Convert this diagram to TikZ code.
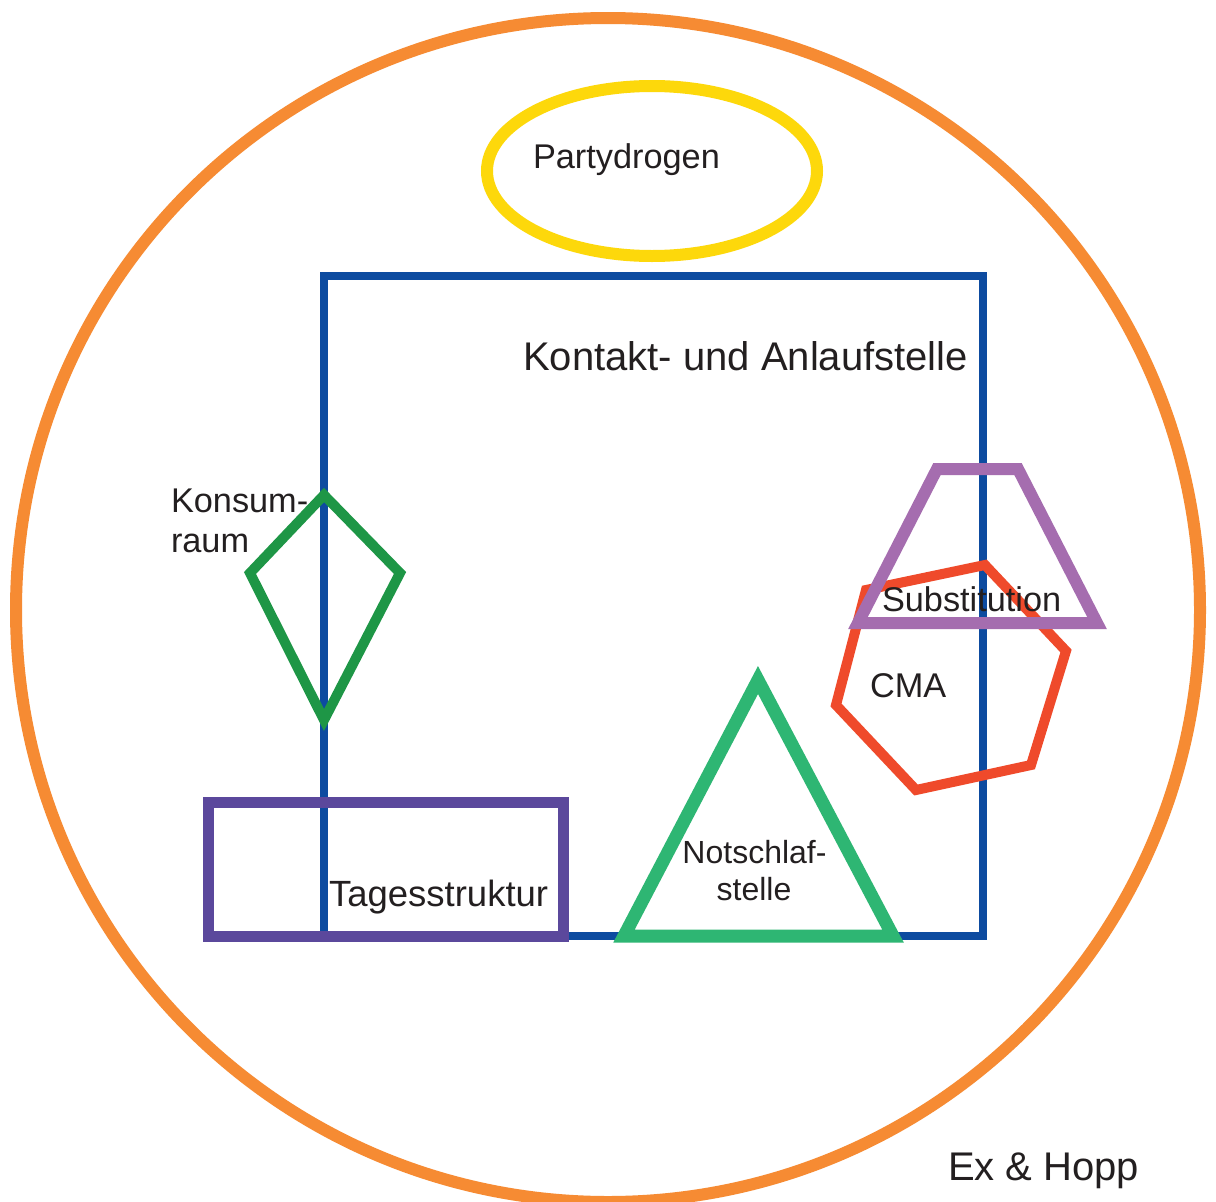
\documentclass[tikz,border=0pt]{standalone}
\usepackage{fontspec}
\setmainfont{Liberation Sans}
\definecolor{orangeC}{HTML}{F68B33}
\definecolor{yellowC}{HTML}{FDD80B}
\definecolor{blueC}{HTML}{0D4BA0}
\definecolor{kiteC}{HTML}{1E9646}
\definecolor{tagC}{HTML}{5B489C}
\definecolor{triC}{HTML}{2EB673}
\definecolor{trapC}{HTML}{A56DAF}
\definecolor{redC}{HTML}{EF4A2B}
\definecolor{textC}{HTML}{231F20}
\tikzset{
  shapeline/.style={line join=miter, miter limit=10},
  lbl/.style={inner sep=0pt, outer sep=0pt, text=textC},
  fbig/.style={font=\fontsize{40}{48}\selectfont},
  fmid/.style={font=\fontsize{34.3}{40}\selectfont},
  ftag/.style={font=\fontsize{36.5}{44}\selectfont},
  fsmall/.style={font=\fontsize{32}{37}\selectfont},
}
\begin{document}
\begin{tikzpicture}[x=1pt,y=-1pt]
\useasboundingbox[fill=white] (0,0) rectangle (1216,1202);
% outer circle
\draw[orangeC, line width=12] (608,610) circle[radius=592];
% Partydrogen ellipse
\draw[yellowC, line width=12] (652,171) ellipse[x radius=165, y radius=85];
% Kontakt- und Anlaufstelle
\draw[blueC, line width=8, shapeline] (324,276) rectangle (983,936);
% Konsumraum kite
\draw[kiteC, line width=10, shapeline] (324,495) -- (250,573) -- (324,720) -- (400,573) -- cycle;
% Tagesstruktur
\draw[tagC, line width=11, shapeline] (208.5,802) rectangle (563.5,936.5);
% Notschlafstelle triangle
\draw[triC, line width=13, shapeline] (758,680) -- (893,936) -- (624,936) -- cycle;
% CMA hexagon
\draw[redC, line width=10, shapeline] (866,590) -- (985,565) -- (1066,651) -- (1031,765) -- (916,790) -- (836,705) -- cycle;
% Substitution trapezoid
\draw[trapC, line width=12, shapeline] (937,469) -- (1018,469) -- (1097,623) -- (858,623) -- cycle;
% labels
\node[lbl, fmid, anchor=base west] (party) at (533,168) {Partydrogen};
\node[lbl, fbig, anchor=base east] (kontakt) at (968,370) {Kontakt- und Anlaufstelle};
\node[lbl, fmid, anchor=base west] (konsumA) at (171,512) {Konsum-};
\node[lbl, fmid, anchor=base west] (konsumB) at (171,552) {raum};
\node[lbl, fmid, anchor=base west] (subst) at (882,611) {Substitution};
\node[lbl, fmid, anchor=base west] (cma) at (870,697) {CMA};
\node[lbl, ftag, anchor=base west] (tages) at (329,906) {Tagesstruktur};
\node[lbl, fsmall, anchor=base] (notA) at (754.5,863) {Notschlaf-};
\node[lbl, fsmall, anchor=base] (notB) at (754,900) {stelle};
\node[lbl, fbig, anchor=base west] (exhopp) at (948,1180) {Ex \& Hopp};
\end{tikzpicture}
\end{document}
